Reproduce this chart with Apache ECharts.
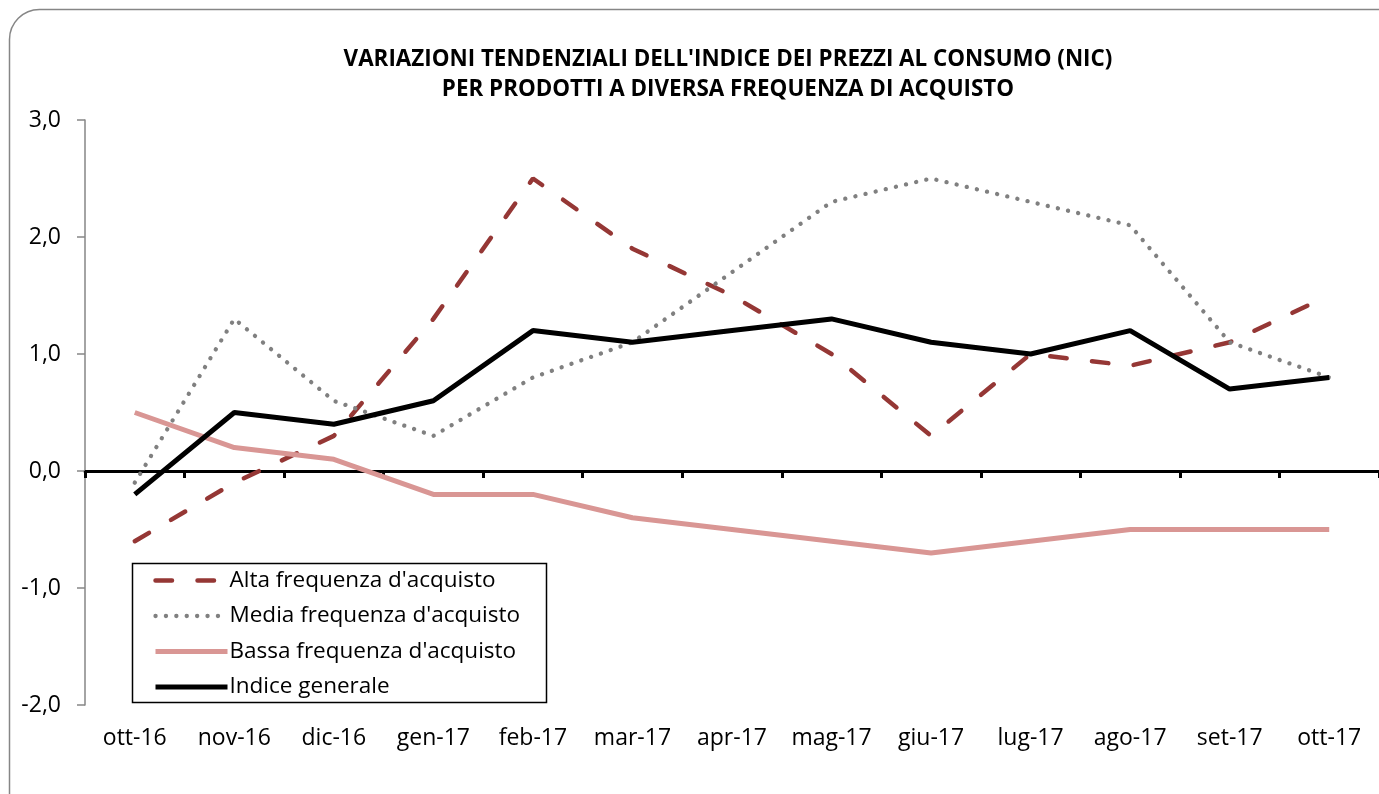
<!DOCTYPE html>
<html>
<head>
<meta charset="utf-8">
<title>Variazioni tendenziali NIC</title>
<script src="https://cdn.jsdelivr.net/npm/echarts@6/dist/echarts.min.js"></script>
<style>
  html, body { margin: 0; padding: 0; background: #fff; }
  #main { width: 1379px; height: 794px; }
</style>
</head>
<body>
<div id="main"></div>
<script>
// dati
var mesi = ['ott-16', 'nov-16', 'dic-16', 'gen-17', 'feb-17', 'mar-17', 'apr-17',
            'mag-17', 'giu-17', 'lug-17', 'ago-17', 'set-17', 'ott-17'];
var altaFreq  = [-0.6, -0.1, 0.3, 1.3, 2.5, 1.9, 1.5, 1.0, 0.3, 1.0, 0.9, 1.1, 1.5];
var mediaFreq = [-0.1, 1.3, 0.6, 0.3, 0.8, 1.1, 1.7, 2.3, 2.5, 2.3, 2.1, 1.1, 0.8];
var bassaFreq = [0.5, 0.2, 0.1, -0.2, -0.2, -0.4, -0.5, -0.6, -0.7, -0.6, -0.5, -0.5, -0.5];
var indiceGen = [-0.2, 0.5, 0.4, 0.6, 1.2, 1.1, 1.2, 1.3, 1.1, 1.0, 1.2, 0.7, 0.8];
var titolo = ["VARIAZIONI TENDENZIALI DELL'INDICE DEI PREZZI AL CONSUMO (NIC)",
              'PER PRODOTTI A DIVERSA FREQUENZA DI ACQUISTO'];
var nomi = ["Alta frequenza d'acquisto", "Media frequenza d'acquisto",
            "Bassa frequenza d'acquisto", 'Indice generale'];

var FONT = '"Open Sans", "Noto Sans", sans-serif';

// stili delle linee (come in Excel)
var stileAlta  = { color: '#953735', width: 4.5, type: [16.5, 25.5], cap: 'round' };
var stileMedia = { color: '#808080', width: 4.3, type: [0.1, 10.3], cap: 'round' };
var stileBassa = { color: '#D99694', width: 5, type: 'solid', cap: 'butt' };
var stileIndice = { color: '#000000', width: 5, type: 'solid', cap: 'butt' };
// niente simbolo nelle icone della legenda
var senzaSimbolo = { color: 'rgba(0,0,0,0)', borderWidth: 0, opacity: 0 };

var chart = echarts.init(document.getElementById('main'), null, { renderer: 'canvas' });

function serie(nome, dati, stile) {
    return {
        name: nome,
        type: 'line',
        data: dati,
        symbol: 'none',
        smooth: false,
        animation: false,
        itemStyle: { color: stile.color },
        lineStyle: stile
    };
}

var option = {
    animation: false,
    backgroundColor: '#fff',
    textStyle: { fontFamily: FONT },
    graphic: [
        {   // cornice arrotondata del grafico
            type: 'rect', z: -10,
            shape: { x: 9.5, y: 9.5, width: 1420, height: 820, r: 30 },
            style: { fill: '#fff', stroke: '#868686', lineWidth: 1.5 }
        },
        {
            type: 'text', x: 728, y: 60, z: 10,
            style: { text: titolo[0], fontFamily: FONT, fontWeight: 'bold', fontSize: 22.4,
                     fill: '#000', textAlign: 'center', textVerticalAlign: 'middle' }
        },
        {
            type: 'text', x: 728, y: 90, z: 10,
            style: { text: titolo[1], fontFamily: FONT, fontWeight: 'bold', fontSize: 22.4,
                     fill: '#000', textAlign: 'center', textVerticalAlign: 'middle' }
        },
        {   // riquadro della legenda
            type: 'rect', z: 5,
            shape: { x: 132.5, y: 563.5, width: 414, height: 139 },
            style: { fill: '#fff', stroke: '#000', lineWidth: 1.5 }
        }
    ],
    legend: {
        orient: 'vertical',
        left: 132,
        top: 565,
        z: 6,
        padding: [4, 10, 4, 21],
        itemWidth: 72,
        itemHeight: 14,
        itemGap: 12.5,
        selectedMode: false,
        textStyle: { fontFamily: FONT, fontSize: 22.5, color: '#000', padding: [0, 0, 0, -3] },
        data: [
            { name: nomi[0], lineStyle: stileAlta, itemStyle: senzaSimbolo },
            { name: nomi[1], lineStyle: stileMedia, itemStyle: senzaSimbolo },
            { name: nomi[2], lineStyle: stileBassa, itemStyle: senzaSimbolo },
            { name: nomi[3], lineStyle: stileIndice, itemStyle: senzaSimbolo }
        ]
    },
    grid: { left: 85, right: 0, top: 120, bottom: 89, containLabel: false },
    xAxis: [
        {   // etichette in basso
            type: 'category',
            data: mesi,
            boundaryGap: true,
            position: 'bottom',
            axisLine: { show: false, onZero: false },
            axisTick: { show: false },
            axisLabel: { fontFamily: FONT, fontSize: 23, color: '#000', margin: 22, interval: 0 }
        },
        {   // asse dello zero
            type: 'category',
            data: mesi,
            boundaryGap: true,
            position: 'bottom',
            axisLine: { show: true, onZero: true, lineStyle: { color: '#000', width: 3 } },
            axisTick: { show: true, length: 7, lineStyle: { color: '#000', width: 3 } },
            axisLabel: { show: false }
        }
    ],
    yAxis: {
        type: 'value',
        min: -2,
        max: 3,
        interval: 1,
        axisLine: { show: true, lineStyle: { color: '#868686', width: 1.5 } },
        axisTick: { show: true, length: 8, lineStyle: { color: '#868686', width: 1.5 } },
        splitLine: { show: false },
        axisLabel: {
            fontFamily: FONT, fontSize: 23, color: '#000', margin: 24,
            formatter: function (v) { return v.toFixed(1).replace('.', ','); }
        }
    },
    series: [
        serie(nomi[0], altaFreq, stileAlta),
        serie(nomi[1], mediaFreq, stileMedia),
        serie(nomi[2], bassaFreq, stileBassa),
        serie(nomi[3], indiceGen, stileIndice)
    ]
};

chart.setOption(option);
</script>
</body>
</html>
